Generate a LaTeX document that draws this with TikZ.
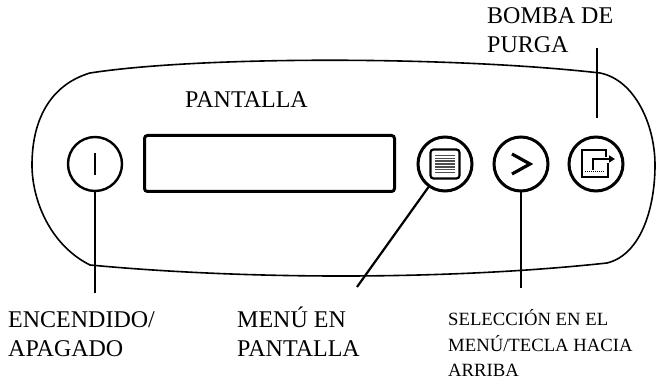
\documentclass[tikz,border=0pt]{standalone}
\usepackage{fontspec}
\setmainfont{Liberation Serif}
\usetikzlibrary{arrows.meta}

\begin{document}
\begin{tikzpicture}[
        x=1pt, y=-1pt,
        button/.style={
            circle,
            draw,
            line width=3pt,
            minimum size=54pt,
            inner sep=0pt
        },
        leader/.style={
            line width=2.2pt
        },
        caption/.style={
            inner sep=0pt,
            align=left,
            anchor=base west,
            font=\fontsize{24}{29}\selectfont
        },
        smallcaption/.style={
            caption,
            font=\fontsize{18.7}{25.5}\selectfont
        }
    ]
        \useasboundingbox (0,0) rectangle (657,387);

        % Panel outline
        \draw[line width=1.6pt] (90,73) .. controls (200,56) and (450,56) .. (600,73)
            .. controls (635,80) and (655,125) .. (655,165)
            .. controls (655,210) and (640,255) .. (607,263)
            .. controls (450,280) and (250,280) .. (90,265)
            .. controls (50,245) and (32,200) .. (32,165)
            .. controls (32,120) and (50,85) .. (90,73) -- cycle;

        % Display
        \node[draw, line width=3pt, rounded corners=3pt, minimum width=250pt,
              minimum height=56pt, inner sep=0pt] (screen) at (269.5,163.5) {};
        \node[caption] (screenlbl) at (185,108) {PANTALLA};

        % Buttons
        \node[button, line width=2.4pt] (onoff) at (95,164) {};
        \node[button] (menu) at (445,164) {};
        \node[button] (select) at (521,164) {};
        \node[button] (purge) at (596,164) {};

        % Button symbols
        \draw[line width=2.2pt] ([yshift=-11pt]onoff.center) -- ([yshift=11pt]onoff.center);
        \begin{scope}[shift={(menu.center)}]
            \draw[line width=2.2pt, rounded corners=3pt] (-14.5,-14.5) rectangle (14.5,14.5);
            \foreach \i in {0,...,6}
                \draw[line width=1.5pt, black!70] (-10,{-8.4+2.8*\i}) -- (10,{-8.4+2.8*\i});
        \end{scope}
        \begin{scope}[shift={(select.center)}]
            \draw[line width=3.2pt] (-9,-10) -- (9,0) -- (-9,10);
        \end{scope}
        \begin{scope}[shift={(purge.center)}]
            \draw[line width=2.2pt] (10,-7) -- (10,-14) -- (-14,-14) -- (-14,13) -- (12,13) -- (12,-1);
            \draw[line width=2.2pt, -{Triangle[length=6pt,width=7pt]}] (-3,6) -- (-3,-5) -- (19,-5);
            \draw[line width=1pt, densely dotted] (-11,8) -- (9,8);
        \end{scope}

        % Leaders
        \coordinate (onoffend) at (95,293);
        \coordinate (menuend) at (357,287);
        \coordinate (selectend) at (521,288);
        \coordinate (purgetop) at (597,48);
        \coordinate (purgebot) at (597,118);
        \draw[leader] (onoff) -- (onoffend);
        \draw[leader] (menu) -- (menuend);
        \draw[leader] (select) -- (selectend);
        \draw[leader] (purgetop) -- (purgebot);

        % Labels (anchored at the baseline of the last line)
        \node[caption] (purgelbl) at (487,53) {BOMBA DE\\PURGA};
        \node[caption] (onofflbl) at (8,357) {ENCENDIDO/\\APAGADO};
        \node[caption] (menulbl) at (237,357) {MENÚ EN\\PANTALLA};
        \node[smallcaption] (selectlbl) at (448,377) {SELECCIÓN EN EL\\MENÚ/TECLA HACIA\\ARRIBA};
    \end{tikzpicture}
\end{document}
